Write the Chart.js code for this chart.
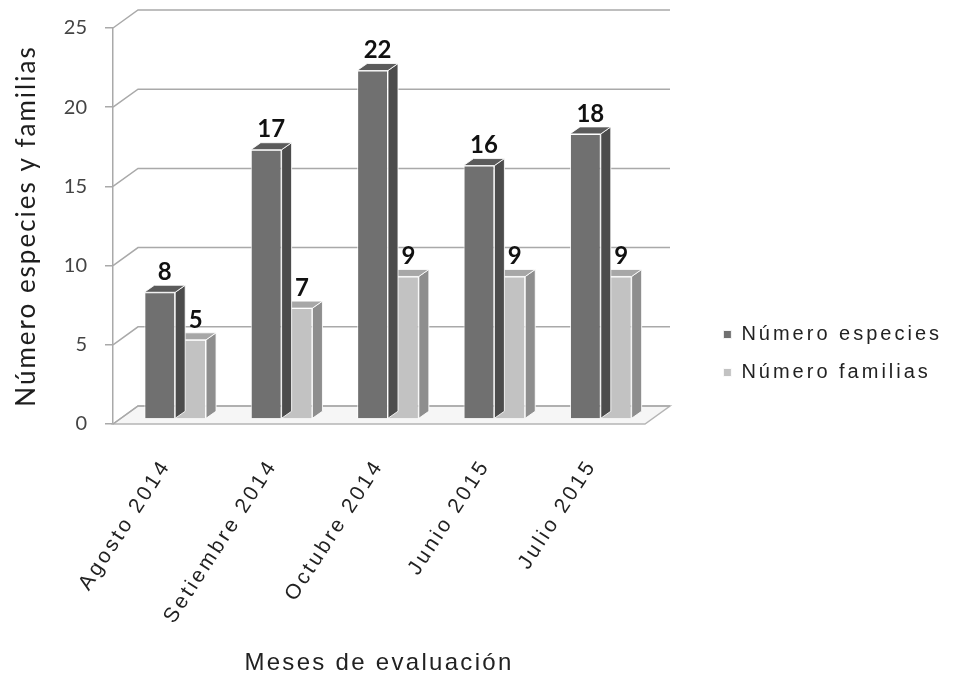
<!DOCTYPE html>
<html>
<head>
<meta charset="utf-8">
<script src="https://cdn.jsdelivr.net/npm/chart.js@4.4.1/dist/chart.umd.min.js"></script>
<style>
  html, body { margin: 0; padding: 0; background: #ffffff; }
  #wrap { width: 958px; height: 679px; position: relative; }
</style>
</head>
<body>
<div id="wrap"><canvas id="c"></canvas></div>
<script>
// Survey months and counts
const categories = ['Agosto 2014', 'Setiembre 2014', 'Octubre 2014', 'Junio 2015', 'Julio 2015'];
const especies = [8, 17, 22, 16, 18];
const familias = [5, 7, 9, 9, 9];
const seriesNames = ['Número especies', 'Número familias'];
const yMin = 0, yMax = 25, yStep = 5;

// Face shades for the two series: front, side, top
const shades = [
  { front: '#707070', side: '#4c4c4c', top: '#5b5b5b' },
  { front: '#c2c2c2', side: '#8e8e8e', top: '#a7a7a7' }
];

// Oblique depth of the walls and of the bars
const WALL = { dx: 25, dy: -18 };
const BAR_SHIFT = { dx: 9, dy: -5 };
const BAR_DEPTH = { dx: 10, dy: -7 };

const canvas = document.getElementById('c');
const ctx = canvas.getContext('2d');

// Loose tracking for the sans texts, like the hinted office fonts
function trackingFor(font) {
  if (/Liberation/.test(font)) return /24px/.test(font) ? '2.3px' : '3px';
  if (/26px Lato/.test(font)) return '2px';
  return '0px';
}
const fontDesc = Object.getOwnPropertyDescriptor(CanvasRenderingContext2D.prototype, 'font');
Object.defineProperty(ctx, 'font', {
  configurable: true,
  get() { return fontDesc.get.call(this); },
  set(v) {
    fontDesc.set.call(this, v);
    this.letterSpacing = trackingFor(v);
  }
});

const gridColor = '#a9a9a9';

// Side wall, back wall gridlines, floor, and the shaded bar faces
const walls3d = {
  id: 'walls3d',
  beforeDatasetsDraw(chart) {
    const { ctx, chartArea: a } = chart;
    const ys = chart.scales.y;
    ctx.save();
    const b = ys.getPixelForValue(yMin);
    ctx.beginPath();
    ctx.moveTo(a.left, b);
    ctx.lineTo(a.left + WALL.dx, b + WALL.dy);
    ctx.lineTo(a.right + WALL.dx, b + WALL.dy);
    ctx.lineTo(a.right, b);
    ctx.closePath();
    ctx.fillStyle = '#f6f6f6';
    ctx.fill();
    ctx.lineWidth = 1.5;
    ctx.strokeStyle = '#b5b5b5';
    ctx.stroke();
    ctx.strokeStyle = gridColor;
    ctx.lineWidth = 1.5;
    for (let v = yMin; v <= yMax; v += yStep) {
      const y = ys.getPixelForValue(v);
      ctx.beginPath();
      ctx.moveTo(a.left, y);
      ctx.lineTo(a.left + WALL.dx, y + WALL.dy);
      ctx.lineTo(a.right + WALL.dx, y + WALL.dy);
      ctx.stroke();
    }
    ctx.restore();
    // bars stand half-way into the depth
    ctx.save();
    ctx.translate(BAR_SHIFT.dx, BAR_SHIFT.dy);
  },
  afterDatasetDraw(chart, args) {
    const { ctx } = chart;
    const sh = shades[args.index];
    ctx.save();
    ctx.lineWidth = 1;
    ctx.strokeStyle = 'rgba(255,255,255,0.85)';
    args.meta.data.forEach((bar) => {
      const p = bar.getProps(['x', 'y', 'base', 'width'], true);
      const l = p.x - p.width / 2, r = p.x + p.width / 2;
      ctx.beginPath();
      ctx.moveTo(r, p.y);
      ctx.lineTo(r + BAR_DEPTH.dx, p.y + BAR_DEPTH.dy);
      ctx.lineTo(r + BAR_DEPTH.dx, p.base + BAR_DEPTH.dy);
      ctx.lineTo(r, p.base);
      ctx.closePath();
      ctx.fillStyle = sh.side;
      ctx.fill();
      ctx.stroke();
      ctx.beginPath();
      ctx.moveTo(l, p.y);
      ctx.lineTo(l + BAR_DEPTH.dx, p.y + BAR_DEPTH.dy);
      ctx.lineTo(r + BAR_DEPTH.dx, p.y + BAR_DEPTH.dy);
      ctx.lineTo(r, p.y);
      ctx.closePath();
      ctx.fillStyle = sh.top;
      ctx.fill();
      ctx.stroke();
    });
    ctx.restore();
  },
  afterDatasetsDraw(chart) {
    const { ctx } = chart;
    ctx.save();
    ctx.font = 'bold 24px Lato';
    ctx.fillStyle = '#111111';
    ctx.textAlign = 'center';
    ctx.textBaseline = 'bottom';
    chart.data.datasets.forEach((ds, i) => {
      chart.getDatasetMeta(i).data.forEach((bar, j) => {
        const p = bar.getProps(['x', 'y'], true);
        ctx.fillText(String(ds.data[j]), p.x + BAR_DEPTH.dx / 2, p.y + BAR_DEPTH.dy - 1);
      });
    });
    ctx.restore();
    ctx.restore(); // undo the bar shift
  }
};

const PLOT = { left: 113, right: 645, bottom: 424 };
const W = 958, H = 679;

new Chart(ctx, {
  type: 'bar',
  data: {
    labels: categories,
    datasets: [
      { label: seriesNames[0], data: especies, backgroundColor: shades[0].front,
        borderColor: 'rgba(255,255,255,0.85)', borderWidth: 1, clip: false },
      { label: seriesNames[1], data: familias, backgroundColor: shades[1].front,
        borderColor: 'rgba(255,255,255,0.85)', borderWidth: 1, clip: false }
    ]
  },
  options: {
    responsive: true,
    maintainAspectRatio: false,
    animation: false,
    datasets: { bar: { categoryPercentage: 0.58, barPercentage: 1.0 } },
    layout: { padding: { top: 28, left: 11, right: 6, bottom: 0 } },
    plugins: {
      legend: {
        position: 'right',
        align: 'center',
        maxWidth: 320,
        labels: {
          boxWidth: 8, boxHeight: 8, padding: 18,
          color: '#222222',
          font: { family: 'Liberation Sans', size: 20 }
        }
      },
      tooltip: { enabled: false }
    },
    scales: {
      x: {
        grid: { display: false, drawTicks: false },
        border: { display: false },
        ticks: {
          minRotation: 57, maxRotation: 57, autoSkip: false, padding: 31,
          color: '#222222',
          font: { family: 'Liberation Sans', size: 21 }
        },
        title: {
          display: true, text: 'Meses de evaluación', color: '#222222',
          font: { family: 'Liberation Sans', size: 24 },
          padding: { top: 0, bottom: 1 }
        },
        afterFit(s) { s.height = H - PLOT.bottom; s.paddingLeft = 0; s.paddingRight = 0; }
      },
      y: {
        min: yMin, max: yMax,
        ticks: { stepSize: yStep, padding: 18, color: '#444444',
          font: { family: 'Lato', size: 20 } },
        grid: { drawOnChartArea: false, drawTicks: true, tickLength: 8, color: gridColor, lineWidth: 1.5 },
        border: { display: true, color: gridColor, width: 1.5 },
        title: {
          display: true, text: 'Número especies y familias', color: '#1e1e1e',
          font: { family: 'Lato', size: 26 },
          padding: { top: 0, bottom: 0 }
        },
        afterFit(s) { s.width = PLOT.left - 11; s.paddingTop = 0; s.paddingBottom = 0; }
      },
      yR: {
        type: 'linear', position: 'right', display: true,
        grid: { display: false }, border: { display: false },
        ticks: { display: false },
        afterFit(s) {
          const lw = s.chart.legend ? s.chart.legend.width : 0;
          s.width = Math.max(0, W - 6 - lw - PLOT.right);
          s.paddingTop = 0; s.paddingBottom = 0;
        }
      }
    }
  },
  plugins: [walls3d]
});
</script>
</body>
</html>
